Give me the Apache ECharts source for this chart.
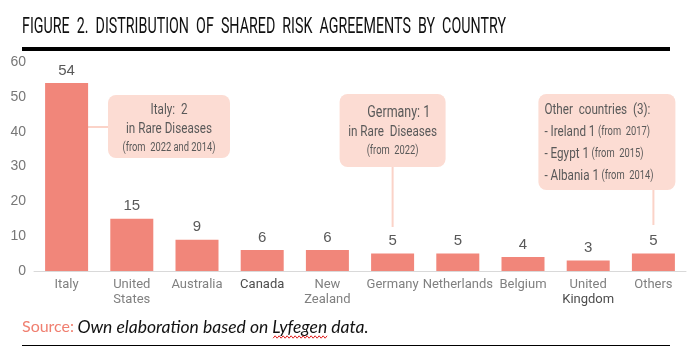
<!DOCTYPE html>
<html>
<head>
<meta charset="utf-8">
<script src="https://cdn.jsdelivr.net/npm/echarts@6/dist/echarts.min.js"></script>
<style>
  html, body { margin: 0; background: #fff; }
  #main { width: 694px; height: 353px; }
</style>
</head>
<body>
<div id="main"></div>
<script>
// data
var countries = ['Italy', 'United\nStates', 'Australia', 'Canada', 'New\nZealand', 'Germany', 'Netherlands', 'Belgium', 'United\nKingdom', 'Others'];
var agreements = [54, 15, 9, 6, 6, 5, 5, 4, 3, 5];
var yMin = 0, yMax = 60, yStep = 10;

var italyNote = ['Italy:  2', 'in Rare Diseases', '(from  2022 and 2014)'];
var germanyNote = ['Germany: 1', 'in Rare  Diseases', '(from  2022)'];
var othersNote = [
  ['Other  countries  (3):', ''],
  ['- Ireland 1', '(from  2017)'],
  ['- Egypt 1', '(from  2015)'],
  ['- Albania 1', '(from  2014)']
];

var salmon = '#f1867a';
var boxFill = '#fcdcd3';
var lineCol = '#fbd3c8';
var textCol = '#595959';

// no condensed font installed, so text in graphics is squeezed horizontally
var ctx = document.createElement('canvas').getContext('2d');
function textWidth(str, font) {
  ctx.font = font;
  return ctx.measureText(str).width;
}
var titleText = 'FIGURE  2.  DISTRIBUTION  OF  SHARED  RISK  AGREEMENTS  BY  COUNTRY';
var titleScale = 484 / textWidth(titleText, '22px Roboto');
var noteScale = 86 / textWidth('in Rare Diseases', '15px Roboto');

// where "Lyfegen" sits in the source line (for the spell-check squiggle)
var srcFont = '16px Lato', itFont = 'italic 17.5px Lato';
var lyfStart = 22 + textWidth('Source: ', srcFont) + textWidth('Own elaboration based on ', itFont);
var lyfWidth = textWidth('Lyfegen', itFont);

var chart = echarts.init(document.getElementById('main'));

var option = {
  animation: false,
  grid: { left: 34, right: 8, top: 62, bottom: 82, containLabel: false },
  xAxis: {
    type: 'category',
    data: countries,
    axisLine: { lineStyle: { color: '#d9d9d9', width: 1 } },
    axisTick: { show: false },
    axisLabel: {
      interval: 0,
      margin: 6,
      fontFamily: 'Roboto',
      fontSize: 13,
      lineHeight: 15,
      color: '#808080',
      formatter: function (v) {
        if (v === 'Canada') return '{d|Canada}';
        if (v === 'United\nKingdom') return 'United\n{d|Kingdom}';
        return v;
      },
      rich: {
        d: { color: '#4d4d4d', fontFamily: 'Roboto', fontSize: 13, lineHeight: 15 }
      }
    }
  },
  yAxis: {
    type: 'value',
    min: yMin,
    max: yMax,
    interval: yStep,
    splitLine: { show: false },
    axisLine: { show: false },
    axisTick: { show: false },
    axisLabel: { color: '#777', fontSize: 14, fontFamily: 'Liberation Sans', margin: 8 }
  },
  series: [{
    type: 'bar',
    data: agreements,
    barWidth: 43,
    itemStyle: { color: salmon },
    label: {
      show: true,
      position: 'top',
      distance: 5,
      color: textCol,
      fontSize: 15,
      fontFamily: 'Liberation Sans'
    }
  }]
};
chart.setOption(option);

// annotation boxes, anchored on the bars
var italyX = chart.convertToPixel({ xAxisIndex: 0 }, 0);
var germanyX = chart.convertToPixel({ xAxisIndex: 0 }, 5);
var othersX = chart.convertToPixel({ xAxisIndex: 0 }, 9);

var othersText = othersNote.map(function (r) {
  return r[1] ? '{a|' + r[0] + '} {b|' + r[1] + '}' : '{a|' + r[0] + '}';
}).join('\n');

var squiggle = [];
for (var i = 0; i * 2 <= lyfWidth; i++) squiggle.push([lyfStart + i * 2, 337 + (i % 2 ? -1.2 : 1.2)]);

var noteRich = {
  a: { fontFamily: 'Roboto', fontSize: 15, lineHeight: 19, fill: textCol },
  b: { fontFamily: 'Roboto', fontSize: 12, lineHeight: 18, fill: textCol },
  c: { fontFamily: 'Roboto', fontSize: 16, lineHeight: 21, fill: textCol }
};

var graphics = [
  {
    type: 'text', x: 22, y: 16, scaleX: titleScale,
    style: { text: titleText, font: '22px Roboto', fill: '#111', verticalAlign: 'top' }
  },
  { type: 'rect', shape: { x: 22, y: 47, width: 648, height: 4 }, style: { fill: '#000' } },
  // Italy
  { type: 'line', shape: { x1: italyX + 21, y1: 127, x2: 108, y2: 127 }, style: { stroke: lineCol, lineWidth: 2 } },
  { type: 'rect', shape: { x: 108, y: 95, width: 122, height: 63, r: 8 }, style: { fill: boxFill } },
  {
    type: 'text', x: 169, y: 101, scaleX: noteScale,
    style: {
      text: '{a|' + italyNote[0] + '}\n{a|' + italyNote[1] + '}\n{b|' + italyNote[2] + '}',
      align: 'center', verticalAlign: 'top', rich: noteRich
    }
  },
  // Germany
  { type: 'line', shape: { x1: germanyX, y1: 167, x2: germanyX, y2: 227 }, style: { stroke: lineCol, lineWidth: 2 } },
  { type: 'rect', shape: { x: germanyX - 53, y: 94, width: 106, height: 73, r: 8 }, style: { fill: boxFill } },
  {
    type: 'text', x: germanyX, y: 102, scaleX: noteScale,
    style: {
      text: '{c|    ' + germanyNote[0] + '}\n{a|' + germanyNote[1] + '}\n{b|' + germanyNote[2] + '}',
      align: 'center', verticalAlign: 'top', rich: noteRich
    }
  },
  // Others
  { type: 'line', shape: { x1: othersX, y1: 190, x2: othersX, y2: 225 }, style: { stroke: lineCol, lineWidth: 2 } },
  { type: 'rect', shape: { x: othersX + 22 - 137, y: 94, width: 137, height: 96, r: 8 }, style: { fill: boxFill } },
  {
    type: 'text', x: othersX + 22 - 131, y: 99, scaleX: noteScale,
    style: {
      text: othersText,
      align: 'left', verticalAlign: 'top',
      rich: {
        a: { fontFamily: 'Roboto', fontSize: 15, lineHeight: 22, fill: textCol },
        b: { fontFamily: 'Roboto', fontSize: 12, lineHeight: 22, fill: textCol }
      }
    }
  },
  // source line
  {
    type: 'text', x: 22, y: 318,
    style: {
      text: '{s|Source:} {i|Own elaboration based on Lyfegen data.}',
      verticalAlign: 'top',
      rich: {
        s: { fontFamily: 'Lato', fontSize: 16, fill: '#f07f70' },
        i: { fontFamily: 'Lato', fontSize: 17.5, fontStyle: 'italic', fill: '#111' }
      }
    }
  },
  { type: 'polyline', shape: { points: squiggle }, style: { stroke: '#e02020', lineWidth: 1, fill: null } },
  { type: 'rect', shape: { x: 22, y: 345, width: 648, height: 1 }, style: { fill: '#000' } }
];

chart.setOption({ graphic: graphics });
</script>
</body>
</html>
